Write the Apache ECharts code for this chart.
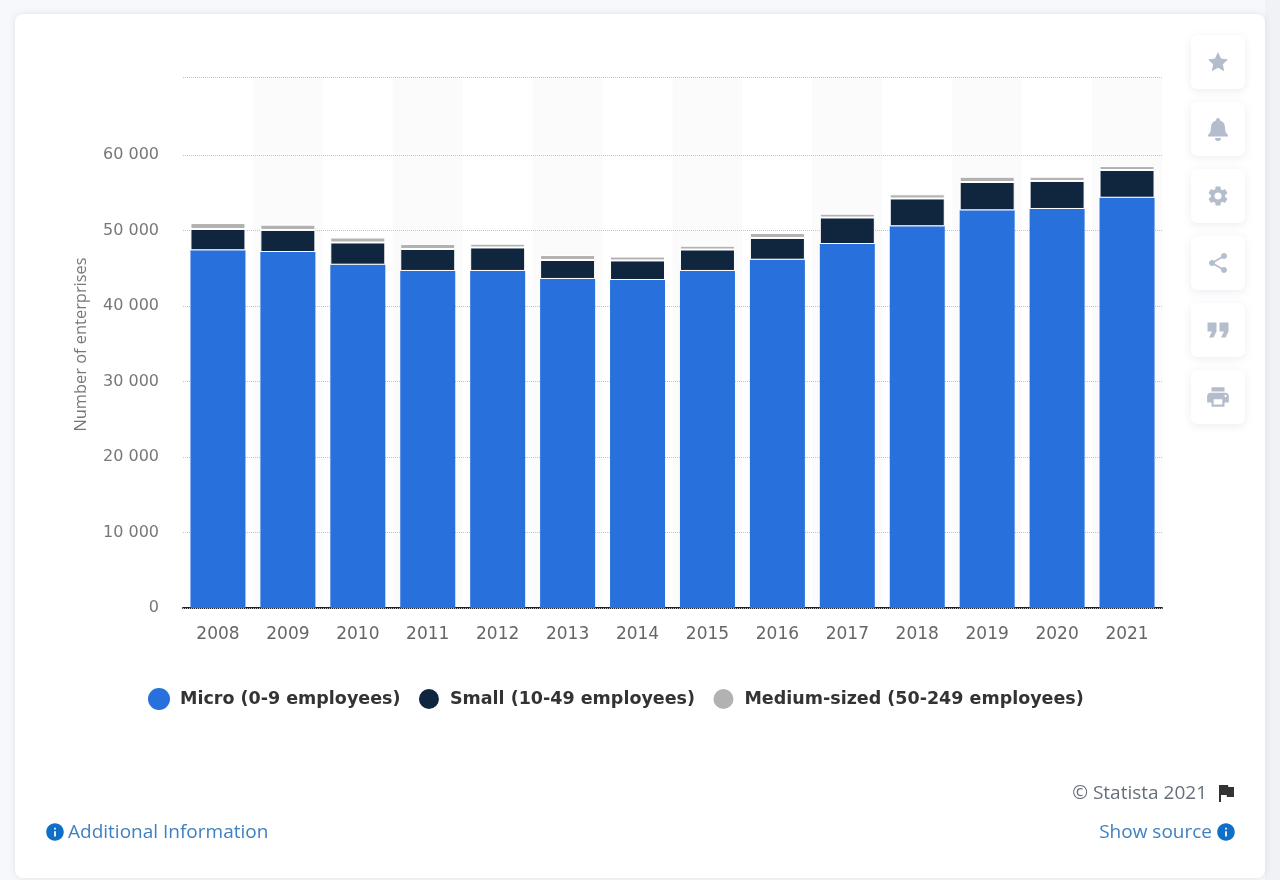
<!DOCTYPE html>
<html>
<head>
<meta charset="utf-8">
<script src="https://cdn.jsdelivr.net/npm/echarts@6/dist/echarts.min.js"></script>
<style>
html,body{margin:0;padding:0;background:#f4f5f9;}
#c{width:1280px;height:880px;}
</style>
</head>
<body>
<div id="c"></div>
<script>
const categories = ['2008','2009','2010','2011','2012','2013','2014','2015','2016','2017','2018','2019','2020','2021'];
const micro  = [47380,47150,45470,44640,44640,43580,43440,44640,46130,48210,50560,52670,52850,54340];
const small  = [2820,2920,2940,2910,3110,2510,2590,2840,2880,3510,3680,3750,3710,3670];
const medium = [790,700,660,660,500,660,520,500,660,500,550,700,560,530];
const yTicks = [0,10000,20000,30000,40000,50000,60000];
const yTop = 70330;
const seriesNames = ['Micro (0-9 employees)','Small (10-49 employees)','Medium-sized (50-249 employees)'];
const seriesColors = ['#2871dc','#10263f','#b2b2b2'];
const seriesValues = [micro, small, medium];
const yAxisTitle = 'Number of enterprises';

const ICON = {
  star:'M12 2l3 6.5 7 .9-5.1 4.8 1.3 7L12 17.8 5.8 21.2l1.3-7L2 9.4l7-.9z',
  bell:'M12 1a2 2 0 0 0-2 2v.6C6.9 4.5 5 7.2 5 10.5c0 4.5-1.5 6-3 7.5v1.5h20V18c-1.5-1.5-3-3-3-7.5 0-3.3-1.9-6-5-6.9V3a2 2 0 0 0-2-2zM9 21a3 3 0 0 0 6 0z',
  gear:'M19.14 12.94c.04-.3.06-.61.06-.94 0-.32-.02-.64-.07-.94l2.03-1.58c.18-.14.23-.41.12-.61l-1.92-3.32c-.12-.22-.37-.29-.59-.22l-2.39.96c-.5-.38-1.03-.7-1.62-.94l-.36-2.54c-.04-.24-.24-.41-.48-.41h-3.84c-.24 0-.43.17-.47.41l-.36 2.54c-.59.24-1.13.57-1.62.94l-2.39-.96c-.22-.08-.47 0-.59.22L2.74 8.87c-.12.21-.08.47.12.61l2.03 1.58c-.05.3-.09.63-.09.94s.02.64.07.94l-2.03 1.58c-.18.14-.23.41-.12.61l1.92 3.32c.12.22.37.29.59.22l2.39-.96c.5.38 1.03.7 1.62.94l.36 2.54c.05.24.24.41.48.41h3.84c.24 0 .44-.17.47-.41l.36-2.54c.59-.24 1.13-.56 1.62-.94l2.39.96c.22.08.47 0 .59-.22l1.92-3.32c.12-.22.07-.47-.12-.61l-2.01-1.58zM12 15.6c-1.98 0-3.6-1.62-3.6-3.6s1.62-3.6 3.6-3.6 3.6 1.62 3.6 3.6-1.62 3.6-3.6 3.6z',
  share:'M18 16.08c-.76 0-1.44.3-1.96.77L8.91 12.7c.05-.23.09-.46.09-.7s-.04-.47-.09-.7l7.05-4.11c.54.5 1.25.81 2.04.81 1.66 0 3-1.34 3-3s-1.34-3-3-3-3 1.34-3 3c0 .24.04.47.09.7L8.04 9.81C7.5 9.31 6.79 9 6 9c-1.66 0-3 1.34-3 3s1.34 3 3 3c.79 0 1.5-.31 2.04-.81l7.12 4.16c-.05.21-.08.43-.08.65 0 1.61 1.31 2.92 2.92 2.92 1.61 0 2.92-1.31 2.92-2.92s-1.31-2.92-2.92-2.92z',
  quote:'M6 17h3l2-4V7H5v6h3zm8 0h3l2-4V7h-6v6h3z',
  print:'M19 8H5c-1.66 0-3 1.34-3 3v6h4v4h12v-4h4v-6c0-1.66-1.34-3-3-3zm-3 11H8v-5h8v5zm3-7c-.55 0-1-.45-1-1s.45-1 1-1 1 .45 1 1-.45 1-1 1zm-1-9H6v4h12V3z',
  info:'M12 2C6.48 2 2 6.48 2 12s4.48 10 10 10 10-4.48 10-10S17.52 2 12 2zm1 15h-2v-6h2v6zm0-8h-2V7h2v2z',
  flag:'M14.4 6L14 4H5v17h2v-7h5.6l.4 2h7V6z'
};
Object.keys(ICON).forEach(function(k){
  echarts.graphic.registerShape('icon_'+k, echarts.graphic.extendPath(ICON[k], {}));
});
function icon(name, cx, cy, size, fill){
  const s = size/24;
  return {type:'icon_'+name, silent:true, z:-5, x:cx-12*s, y:cy-12*s, scaleX:s, scaleY:s, style:{fill:fill}};
}
function label(text, x, y, align, fill, size){
  return {type:'text', silent:true, z:-5, x:x, y:y, style:{text:text, fill:fill, font:size+'px "Open Sans", sans-serif', textAlign:align, textVerticalAlign:'middle'}};
}
const graphics = [
  {type:'rect', silent:true, z:-20, shape:{x:1265,y:0,width:15,height:880}, style:{fill:'#f0f2f6'}},
  {type:'rect', silent:true, z:-19, shape:{x:15,y:14,width:1250,height:864,r:8}, style:{fill:'#ffffff', shadowBlur:6, shadowColor:'rgba(120,130,150,0.18)'}},
  label('© Statista 2021', 1207, 794, 'right', '#666f7a', 19),
  icon('flag', 1226, 793, 24, '#333333'),
  label('Additional Information', 68, 833, 'left', '#3f80c4', 19),
  icon('info', 55, 832, 21, '#0f6fc6'),
  label('Show source', 1212, 833, 'right', '#3f80c4', 19),
  icon('info', 1226, 832, 21, '#0f6fc6')
];
const buttonIcons = [['star',24],['bell',24],['gear',24],['share',24],['quote',36],['print',26]];
buttonIcons.forEach(function(b,i){
  const top = 35 + i*67;
  graphics.push({type:'rect', silent:true, z:-10, shape:{x:1191,y:top,width:54,height:54,r:6}, style:{fill:'#ffffff', shadowBlur:8, shadowColor:'rgba(120,130,160,0.14)', shadowOffsetY:2}});
  graphics.push(icon(b[0], 1218, top+27, b[1], '#b4bdcb'));
});

const option = {
  animation:false,
  backgroundColor:'#f7f8fb',
  graphic:graphics,
  grid:{left:183, top:77, width:979, height:531, containLabel:false},
  legend:{
    left:148, top:687, padding:0, itemGap:16.5, itemWidth:22, itemHeight:22, icon:'circle', selectedMode:false,
    textStyle:{fontFamily:'"DejaVu Sans", sans-serif', fontWeight:'bold', fontSize:17.5, color:'#333333', padding:[0,0,0,5]},
    data:seriesNames
  },
  xAxis:{
    type:'category', data:categories, z:0,
    axisLine:{lineStyle:{color:'#222222', width:2}},
    axisTick:{show:false},
    axisLabel:{fontFamily:'"DejaVu Sans", sans-serif', fontSize:17, color:'#666666', margin:18},
    splitArea:{show:true, areaStyle:{color:['#ffffff','#fbfbfc']}},
    splitLine:{show:false}
  },
  yAxis:{
    type:'value', min:0, max:yTop, z:1,
    name:yAxisTitle, nameLocation:'middle', nameGap:94, nameRotate:90,
    nameTextStyle:{fontFamily:'"Open Sans", sans-serif', fontSize:16.4, color:'#777777', padding:[0,4,0,0]},
    axisLine:{show:false},
    axisTick:{show:false, customValues:yTicks.concat([yTop])},
    axisLabel:{customValues:yTicks, fontFamily:'"DejaVu Sans", sans-serif', fontSize:16, color:'#777777', margin:24,
      formatter:function(v){return String(v).replace(/\B(?=(\d{3})+$)/g,' ');}},
    splitLine:{show:true, lineStyle:{color:'#c4c4c4', type:'dotted', width:1}}
  },
  series:seriesNames.map(function(n,i){
    return {name:n, type:'bar', stack:'total', barWidth:55, data:seriesValues[i],
      itemStyle: i===0 ? {color:seriesColors[i]} : {color:seriesColors[i], borderColor:'#ffffff', borderWidth:1},
      emphasis:{disabled:true}};
  })
};
const chart = echarts.init(document.getElementById('c'), null, {renderer:'canvas'});
chart.setOption(option);
</script>
</body>
</html>
